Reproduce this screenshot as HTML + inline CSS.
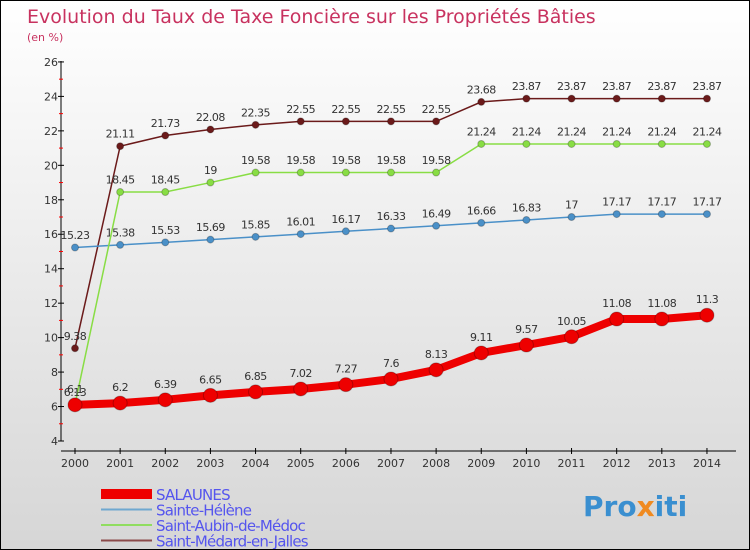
<!DOCTYPE html>
<html><head><meta charset="utf-8"><style>
body{margin:0;padding:0}
#c{width:748px;height:548px;border:1px solid #000;background:linear-gradient(#fff,#d6d6d6);position:relative;overflow:hidden;font-family:"DejaVu Sans","Liberation Sans",sans-serif}
</style></head><body>
<div id="c">
<svg id="s" width="748" height="548" style="position:absolute;left:0;top:0">
<text x="26" y="22" font-size="19" fill="#c8325f">Evolution du Taux de Taxe Foncière sur les Propriétés Bâties</text>
<text x="26" y="40" font-size="11" fill="#c8325f">(en %)</text>
<g id="axes"></g><g id="series"></g><g id="legend"></g>
<text x="582" y="515" font-size="28" font-weight="bold" fill="#3a8fd0">Pro<tspan fill="#f08a20">x</tspan>iti</text>
</svg>
</div>
<script>
const years=[2000,2001,2002,2003,2004,2005,2006,2007,2008,2009,2010,2011,2012,2013,2014];
const salaunes=[6.1,6.2,6.39,6.65,6.85,7.02,7.27,7.6,8.13,9.11,9.57,10.05,11.08,11.08,11.3];
const helene=[15.23,15.38,15.53,15.69,15.85,16.01,16.17,16.33,16.49,16.66,16.83,17,17.17,17.17,17.17];
const aubin=[6.13,18.45,18.45,19,19.58,19.58,19.58,19.58,19.58,21.24,21.24,21.24,21.24,21.24,21.24];
const medard=[9.38,21.11,21.73,22.08,22.35,22.55,22.55,22.55,22.55,23.68,23.87,23.87,23.87,23.87,23.87];
const yTicks=[4,6,8,10,12,14,16,18,20,22,24,26];
const names=["SALAUNES","Sainte-Hélène","Saint-Aubin-de-Médoc","Saint-Médard-en-Jalles"];
const NS="http://www.w3.org/2000/svg";
const X=i=>74+i*45.14, Y=v=>440-(v-4)*17.23;
function mk(p,t,a){const e=document.createElementNS(NS,t);for(const k in a)e.setAttribute(k,a[k]);p.appendChild(e);return e;}
const ax=document.getElementById('axes');
let l=mk(ax,'line',{x1:60,y1:60,x2:60,y2:440,stroke:'#000'});

l=mk(ax,'line',{x1:60,y1:450,x2:735,y2:450,stroke:'#000'});

yTicks.forEach((v,i)=>{mk(ax,'line',{x1:57,x2:63,y1:Y(v),y2:Y(v),stroke:'#000'});
 if(i<yTicks.length-1)mk(ax,'line',{x1:58,x2:62,y1:Y(v+1),y2:Y(v+1),stroke:'#f00'});
 const t=mk(ax,'text',{x:57,y:Y(v)+4,'font-size':11,'text-anchor':'end',fill:'#333'});t.textContent=v;
 });
years.forEach((yr,i)=>{mk(ax,'line',{x1:X(i),x2:X(i),y1:447,y2:453,stroke:'#000'});
 const t=mk(ax,'text',{x:X(i),y:466,'font-size':11,'text-anchor':'middle',fill:'#333'});t.textContent=yr;
 });
const sg=document.getElementById('series');
function series(d,col,w,r,nm){const g=mk(sg,'g',{});
 mk(g,'polyline',{points:d.map((v,i)=>X(i)+','+Y(v)).join(' '),fill:'none',stroke:col,'stroke-width':w});
 d.forEach((v,i)=>{const c=mk(g,'circle',{cx:X(i),cy:Y(v),r:r,fill:col,stroke:'rgba(0,0,0,0.25)'});
  
  const t=mk(g,'text',{x:X(i),y:Y(v)-r-5,'font-size':11,'text-anchor':'middle',fill:'#333','letter-spacing':'-0.5'});t.textContent=v;
  });}
series(medard,'#6b1a1a',1.5,3.5,'saint-medard-series');
series(helene,'#4a90c8',1.5,3.5,'sainte-helene-series');
series(aubin,'#88dd44',1.5,3.5,'saint-aubin-series');
series(salaunes,'#ee0000',8,7,'salaunes-series');
const lg=document.getElementById('legend');
const cols=['#ee0000','#6fa8d0','#90dd60','#8b4a4a'],ws=[10,2,2,2];
names.forEach((n,i)=>{const g=mk(lg,'g',{});
 const y=493+i*15.5;mk(g,'line',{x1:100,x2:151,y1:y,y2:y,stroke:cols[i],'stroke-width':ws[i]});
 const t=mk(g,'text',{x:155,y:y+6,'font-size':15,fill:'#5555ee','letter-spacing':'-0.8'});t.textContent=n;});
</script>
</body></html>
